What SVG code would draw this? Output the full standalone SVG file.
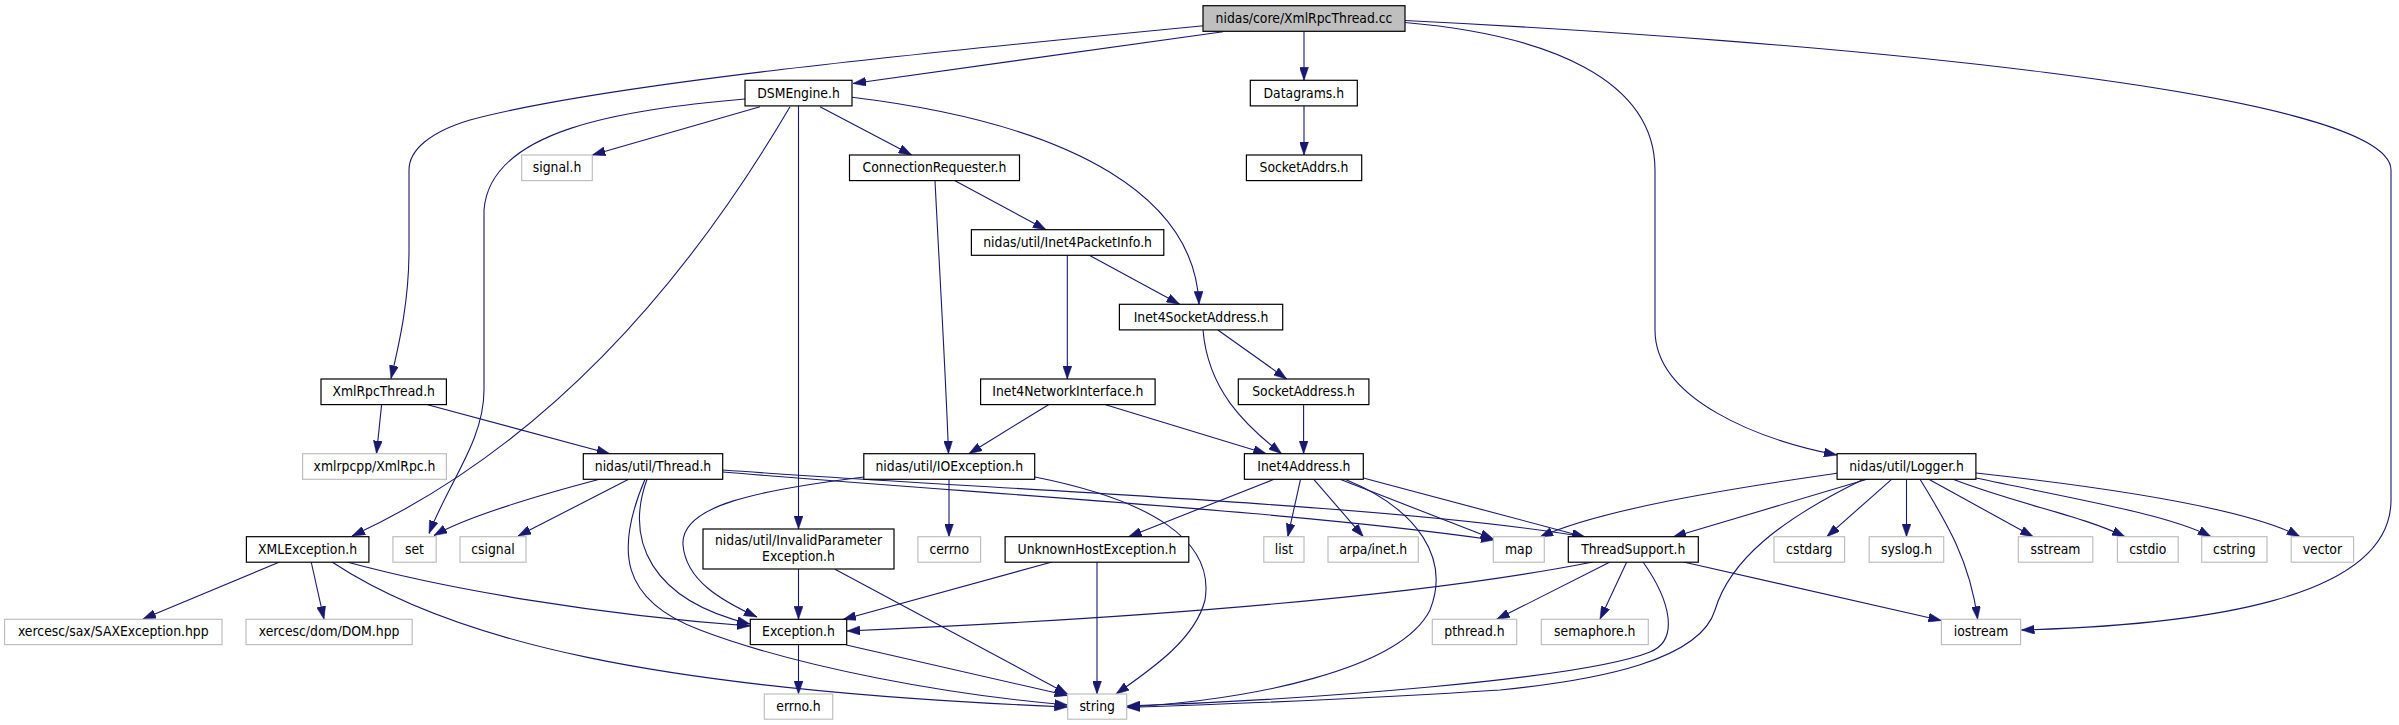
<svg xmlns="http://www.w3.org/2000/svg" width="2399" height="725" viewBox="0 0 2399 725">
<style>
.n{fill:#ffffff;stroke:#000000;stroke-width:1.2}
.x{fill:#ffffff;stroke:#bfbfbf;stroke-width:1.2}
.m{fill:#bfbfbf;stroke:#000000;stroke-width:1.2}
text{font-family:"DejaVu Sans Condensed","DejaVu Sans",sans-serif;font-stretch:condensed;font-size:13.8px;fill:#000000;text-anchor:middle}
#edges path{fill:none;stroke:#191970;stroke-width:1.1;marker-end:url(#arr)}
</style>
<defs>
<marker id="arr" viewBox="0 0 13 9" refX="13" refY="4.5" markerWidth="13" markerHeight="9" markerUnits="userSpaceOnUse" orient="auto">
<path d="M0,0 L13,4.5 L0,9 z" fill="#191970" stroke="#191970" stroke-width="0.5"/>
</marker>
</defs>
<rect width="2399" height="725" fill="#ffffff"/>
<g id="edges">
<path d="M1223,31.7 L853,83.5"/>
<path d="M1203.6,25.7 C900,55 600,85 470,120 C430,132 409,150 409,170 L409,250 C409,300 400,340 391,378.5"/>
<path d="M1304,31.3 L1304,80.3"/>
<path d="M1405,22.5 C1550,35 1655,80 1655,170 L1655,330 C1655,400 1760,440 1837,455"/>
<path d="M1405,20.5 C1800,40 2391,90 2391,170 L2391,500 C2391,600 2200,625 2021.5,630"/>
<path d="M760,106.7 L592.3,155"/>
<path d="M745,99 C620,110 490,130 484,210 L484,390 C484,440 450,480 429,533.5"/>
<path d="M790,106.7 C700,260 560,440 352,536"/>
<path d="M798.5,106 L798.5,529"/>
<path d="M820,106.7 L911.7,155"/>
<path d="M852,97.3 C1080,125 1195,200 1199,304.3"/>
<path d="M955,180.7 L1046,229.7"/>
<path d="M935,180.7 C940,280 946,380 948.5,453.7"/>
<path d="M1089.3,255.3 L1179.6,304.3"/>
<path d="M1067.3,255.3 L1067.3,379"/>
<path d="M1304,106 L1304,155"/>
<path d="M1217.9,330 L1286.7,379"/>
<path d="M1203,330 C1208,390 1245,425 1281.6,453.7"/>
<path d="M1303.6,404.7 L1303.6,453.7"/>
<path d="M1048.5,404.7 L968.9,453.7"/>
<path d="M1105.6,404.7 L1266.3,453.7"/>
<path d="M381.6,404.7 L376.5,453.7"/>
<path d="M427.6,404.7 L609.7,453.7"/>
<path d="M599.5,479.3 C540,495 470,515 434,535.5"/>
<path d="M628.6,479.3 L518,536"/>
<path d="M647,479.3 C625,540 650,600 750,624"/>
<path d="M645,479.3 C615,550 620,600 700,630 C800,668 950,695 1067.5,705"/>
<path d="M722.7,470 C1000,490 1400,505 1585,537"/>
<path d="M722.7,472 C1000,495 1300,512 1494,540"/>
<path d="M949,479.3 L949,536.7"/>
<path d="M864,477 C760,490 680,505 683,545 C686,580 720,600 757,617"/>
<path d="M1035,477 C1150,500 1215,540 1205,600 C1195,640 1150,670 1116,694"/>
<path d="M798.5,569 L798.5,619.3"/>
<path d="M835,569.3 L1067.5,694"/>
<path d="M279.6,562 L142.9,619"/>
<path d="M311.2,562 L324,619.3"/>
<path d="M347,562 C450,590 600,615 750,626"/>
<path d="M332,562 C450,640 650,690 1067.5,707"/>
<path d="M1274,479.3 L1128.6,536.7"/>
<path d="M1300.5,479.3 L1287.8,536.7"/>
<path d="M1313.8,479.3 L1363.3,536.7"/>
<path d="M1345,479.3 C1420,510 1450,560 1430,610 C1400,670 1250,700 1127,707"/>
<path d="M1340,479.3 L1493.5,539"/>
<path d="M1363.3,478 L1585,537"/>
<path d="M1052,562 L843,619.5"/>
<path d="M1097,562 L1097,694"/>
<path d="M798.5,644.6 L798.5,694"/>
<path d="M846.4,645 L1067.5,695.5"/>
<path d="M1593,562 C1400,600 1100,620 847,631"/>
<path d="M1610,562 L1496.7,619.3"/>
<path d="M1626.7,562 L1600,619.3"/>
<path d="M1643,562 C1670,600 1680,640 1650,652 C1580,680 1300,700 1127,706"/>
<path d="M1683.5,562 L1941.4,620.5"/>
<path d="M1837,473.3 C1720,490 1600,510 1540,537"/>
<path d="M1867,479.3 L1673,537"/>
<path d="M1862,480 C1780,520 1730,560 1715,610 C1700,660 1600,680 1500,690 C1350,700 1200,705 1127,707.5"/>
<path d="M1891.6,479.3 L1826.8,536.7"/>
<path d="M1906.5,479.3 L1906.5,536.7"/>
<path d="M1920,479.3 C1945,520 1970,560 1977.6,619.3"/>
<path d="M1928.8,479.3 L2033.2,536.7"/>
<path d="M1953,479.3 C2020,505 2080,515 2125,536.7"/>
<path d="M1976,478 C2080,500 2170,515 2211,536.7"/>
<path d="M1976,473 C2130,490 2250,510 2300,536.7"/>
</g>
<g id="n0"><rect class="m" x="1203" y="5.7" width="202" height="25.6"/><text x="1304" y="22.8">nidas/core/XmlRpcThread.cc</text></g>
<g id="n1"><rect class="n" x="745" y="80.3" width="107" height="25.6"/><text x="798.5" y="97.5">DSMEngine.h</text></g>
<g id="n2"><rect class="n" x="1250.3" y="80.3" width="107" height="25.6"/><text x="1303.8" y="97.5">Datagrams.h</text></g>
<g id="n3"><rect class="n" x="849.5" y="155" width="170" height="25.6"/><text x="934.5" y="172.2">ConnectionRequester.h</text></g>
<g id="n4"><rect class="n" x="1246.4" y="155" width="115.3" height="25.6"/><text x="1304" y="172.2">SocketAddrs.h</text></g>
<g id="n5"><rect class="x" x="521.7" y="155" width="70.6" height="25.6"/><text x="557" y="172.2">signal.h</text></g>
<g id="n6"><rect class="n" x="971.4" y="229.7" width="192.4" height="25.6"/><text x="1067.6" y="246.8">nidas/util/Inet4PacketInfo.h</text></g>
<g id="n7"><rect class="n" x="1119.4" y="304.3" width="163.3" height="25.6"/><text x="1201" y="321.5">Inet4SocketAddress.h</text></g>
<g id="n8"><rect class="n" x="321" y="379" width="125.4" height="25.6"/><text x="383.7" y="396.1">XmlRpcThread.h</text></g>
<g id="n9"><rect class="n" x="980.6" y="379" width="174.5" height="25.6"/><text x="1067.9" y="396.1">Inet4NetworkInterface.h</text></g>
<g id="n10"><rect class="n" x="1238.3" y="379" width="130.6" height="25.6"/><text x="1303.6" y="396.1">SocketAddress.h</text></g>
<g id="n11"><rect class="x" x="302.6" y="453.7" width="143.8" height="25.6"/><text x="374.5" y="470.8">xmlrpcpp/XmlRpc.h</text></g>
<g id="n12"><rect class="n" x="583.3" y="453.7" width="139.4" height="25.6"/><text x="653" y="470.8">nidas/util/Thread.h</text></g>
<g id="n13"><rect class="n" x="863.8" y="453.7" width="170.9" height="25.6"/><text x="949.3" y="470.8">nidas/util/IOException.h</text></g>
<g id="n14"><rect class="n" x="1244.4" y="453.7" width="118.9" height="25.6"/><text x="1303.9" y="470.8">Inet4Address.h</text></g>
<g id="n15"><rect class="n" x="1837.1" y="453.7" width="138.8" height="25.6"/><text x="1906.5" y="470.8">nidas/util/Logger.h</text></g>
<g id="n16"><rect class="n" x="246.4" y="536.7" width="122.5" height="25.5"/><text x="307.6" y="553.6">XMLException.h</text></g>
<g id="n17"><rect class="x" x="392.9" y="536.7" width="43.3" height="25.5"/><text x="414.5" y="553.6">set</text></g>
<g id="n18"><rect class="x" x="460" y="536.7" width="66" height="25.5"/><text x="493" y="553.6">csignal</text></g>
<g id="n19"><rect class="n" x="703" y="529" width="191" height="40"/><text x="798.5" y="545">nidas/util/InvalidParameter</text><text x="798.5" y="560.7">Exception.h</text></g>
<g id="n20"><rect class="x" x="917.9" y="536.7" width="62.7" height="25.5"/><text x="949.2" y="553.6">cerrno</text></g>
<g id="n21"><rect class="n" x="1005.1" y="536.7" width="183.7" height="25.5"/><text x="1097" y="553.6">UnknownHostException.h</text></g>
<g id="n22"><rect class="x" x="1263.8" y="536.7" width="40.2" height="25.5"/><text x="1283.9" y="553.6">list</text></g>
<g id="n23"><rect class="x" x="1328" y="536.7" width="90.3" height="25.5"/><text x="1373.2" y="553.6">arpa/inet.h</text></g>
<g id="n24"><rect class="x" x="1493.3" y="536.7" width="51" height="25.5"/><text x="1518.8" y="553.6">map</text></g>
<g id="n25"><rect class="n" x="1568.3" y="536.7" width="130" height="25.5"/><text x="1633.3" y="553.6">ThreadSupport.h</text></g>
<g id="n26"><rect class="x" x="1774" y="536.7" width="70.6" height="25.5"/><text x="1809.3" y="553.6">cstdarg</text></g>
<g id="n27"><rect class="x" x="1869.2" y="536.7" width="74.5" height="25.5"/><text x="1906.5" y="553.6">syslog.h</text></g>
<g id="n28"><rect class="x" x="2018.3" y="536.7" width="74.5" height="25.5"/><text x="2055.5" y="553.6">sstream</text></g>
<g id="n29"><rect class="x" x="2117.4" y="536.7" width="60.8" height="25.5"/><text x="2147.8" y="553.6">cstdio</text></g>
<g id="n30"><rect class="x" x="2201.7" y="536.7" width="65.3" height="25.5"/><text x="2234.3" y="553.6">cstring</text></g>
<g id="n31"><rect class="x" x="2291.2" y="536.7" width="62.4" height="25.5"/><text x="2322.4" y="553.6">vector</text></g>
<g id="n32"><rect class="x" x="4.6" y="619.3" width="217.4" height="25.3"/><text x="113.3" y="636.2">xercesc/sax/SAXException.hpp</text></g>
<g id="n33"><rect class="x" x="246" y="619.3" width="166.2" height="25.3"/><text x="329.1" y="636.2">xercesc/dom/DOM.hpp</text></g>
<g id="n34"><rect class="n" x="750.3" y="619.3" width="96.4" height="25.3"/><text x="798.5" y="636.2">Exception.h</text></g>
<g id="n35"><rect class="x" x="1432.3" y="619.3" width="84.4" height="25.3"/><text x="1474.5" y="636.2">pthread.h</text></g>
<g id="n36"><rect class="x" x="1541.3" y="619.3" width="107" height="25.3"/><text x="1594.8" y="636.2">semaphore.h</text></g>
<g id="n37"><rect class="x" x="1941.4" y="619.3" width="79.2" height="25.3"/><text x="1981" y="636.2">iostream</text></g>
<g id="n38"><rect class="x" x="764.3" y="694" width="68.4" height="25.2"/><text x="798.5" y="710.9">errno.h</text></g>
<g id="n39"><rect class="x" x="1067.7" y="694" width="59" height="25.2"/><text x="1097.2" y="710.9">string</text></g>
</svg>
